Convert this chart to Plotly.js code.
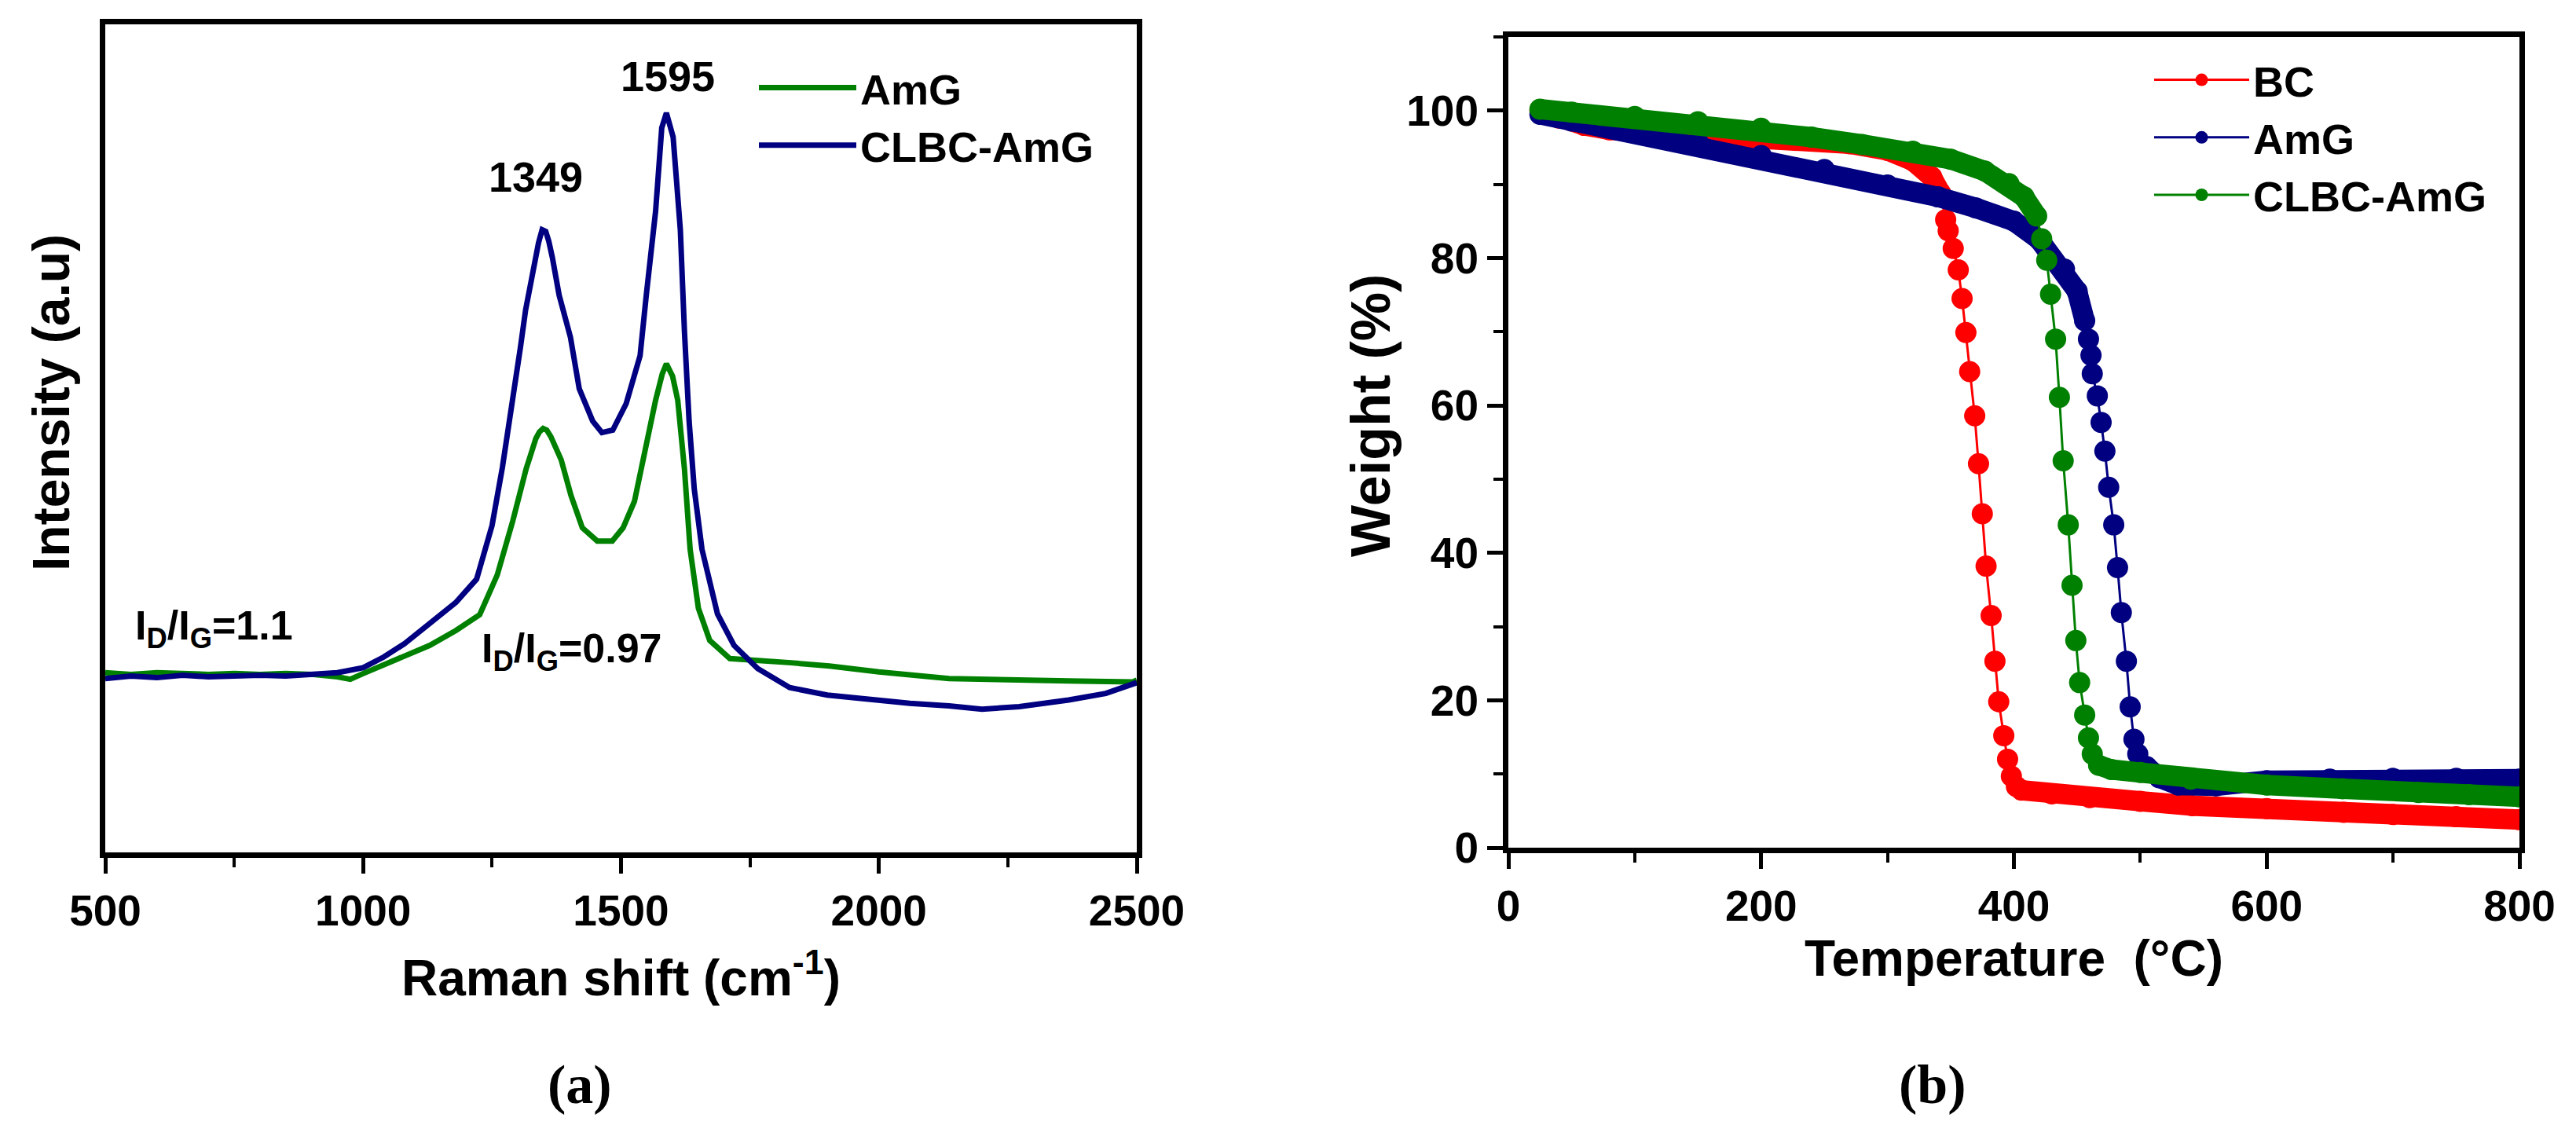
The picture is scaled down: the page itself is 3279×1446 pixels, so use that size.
<!DOCTYPE html>
<html>
<head>
<meta charset="utf-8">
<script src="https://cdn.plot.ly/plotly-3.0.1.min.js"></script>
<style>
  html, body { margin: 0; padding: 0; background: #fff; }
  #chart { width: 3279px; height: 1446px; }
</style>
</head>
<body>
<div id="chart"></div>
<script>
// ---------------- (a) Raman spectra ----------------
const ramanShiftAmG = [500, 550, 600, 650, 700, 750, 800, 850, 900, 950, 975, 1000, 1034, 1080, 1129, 1180, 1226, 1260, 1290, 1316, 1335, 1342, 1349, 1356, 1364, 1384, 1403, 1425, 1454, 1483, 1504, 1526, 1549, 1567, 1580, 1588, 1600, 1610, 1623, 1634, 1650, 1672, 1711, 1765, 1830, 1904, 2000, 2136, 2250, 2368, 2492, 2500];
const intensityAmG = [21.7, 21.5, 21.7, 21.6, 21.5, 21.6, 21.5, 21.6, 21.5, 21.2, 20.9, 21.6, 22.5, 23.6, 25.0, 26.8, 28.7, 33.5, 40.0, 46.3, 50.0, 50.8, 51.2, 51.0, 50.2, 47.4, 43.1, 39.2, 37.6, 37.6, 39.2, 42.4, 49.5, 54.6, 57.8, 59.0, 57.5, 54.6, 46.3, 36.6, 29.5, 25.6, 23.4, 23.2, 22.9, 22.5, 21.8, 21.0, 20.8, 20.7, 20.6, 20.8];

const ramanShiftCLBC = [500, 550, 600, 650, 700, 750, 800, 850, 900, 950, 1000, 1040, 1080, 1130, 1180, 1220, 1250, 1270, 1289, 1305, 1315, 1332, 1340, 1347, 1354, 1360, 1367, 1380, 1402, 1419, 1445, 1463, 1484, 1510, 1537, 1549, 1567, 1579, 1588, 1601, 1615, 1623, 1632, 1642, 1657, 1687, 1719, 1765, 1827, 1900, 1981, 2060, 2136, 2200, 2272, 2368, 2440, 2477, 2500];
const intensityCLBC = [21.0, 21.3, 21.1, 21.4, 21.2, 21.3, 21.4, 21.3, 21.5, 21.7, 22.3, 23.6, 25.2, 27.8, 30.2, 33.0, 39.5, 46.5, 53.9, 61.0, 65.5, 71.2, 73.6, 75.2, 75.0, 73.8, 71.8, 67.3, 62.2, 56.0, 52.1, 50.7, 51.0, 54.2, 60.0, 67.3, 77.4, 87.5, 89.3, 86.4, 75.2, 62.9, 52.1, 43.9, 36.6, 28.8, 25.0, 22.2, 19.9, 19.0, 18.5, 18.0, 17.7, 17.3, 17.6, 18.4, 19.2, 19.9, 20.5];

const ramanPeakLabels = ['1349', '1595'];
const ramanPeakX = [1335, 1591];
const ramanPeakY = [81.6, 93.7];
const ratioLabels = ['I<sub>D</sub>/I<sub>G</sub>=1.1', 'I<sub>D</sub>/I<sub>G</sub>=0.97'];
const ratioX = [555, 1226];
const ratioY = [27.0, 24.3];

// ---------------- (b) TGA curves ----------------
// BC
const bcHeadT = [25, 40, 60, 80, 100, 130, 160, 200, 240, 270, 300, 320, 335, 342];
const bcHeadW = [100, 99.0, 98.0, 97.4, 97.2, 97.0, 96.8, 96.5, 96.0, 95.5, 94.6, 93.2, 91.0, 88.8];
const bcDropT = [346, 348, 352, 356, 359, 362, 365, 369, 372, 375, 378, 382, 385, 388, 392, 395, 398, 402];
const bcDropW = [85.2, 83.7, 81.3, 78.4, 74.5, 69.9, 64.6, 58.6, 52.1, 45.3, 38.2, 31.5, 25.3, 19.8, 15.2, 12.0, 9.7, 8.3];
const bcTailT = [406, 430, 460, 500, 541, 600, 661, 700, 750, 800];
const bcTailW = [7.8, 7.3, 6.8, 6.3, 5.7, 5.3, 4.8, 4.5, 4.2, 3.8];
// AmG
const amgHeadT = [25, 50, 100, 150, 200, 250, 300, 340, 370, 400, 420, 440, 450, 456];
const amgHeadW = [99.5, 98.6, 97.4, 95.7, 93.9, 92.0, 89.9, 88.3, 86.8, 85.0, 82.5, 78.5, 75.5, 71.5];
const amgDropT = [459, 461, 462, 466, 469, 472, 475, 479, 482, 485, 489, 492, 495, 498];
const amgDropW = [69.0, 66.8, 64.3, 61.3, 57.7, 53.8, 48.9, 43.8, 38.0, 31.9, 25.3, 19.1, 14.7, 12.7];
const amgTailT = [505, 515, 530, 560, 600, 650, 700, 750, 800];
const amgTailW = [11.0, 9.5, 8.5, 8.4, 9.1, 9.3, 9.4, 9.4, 9.3];
// CLBC-AmG
const clbcHeadT = [25, 50, 100, 150, 200, 240, 280, 320, 350, 377, 396, 408, 418];
const clbcHeadW = [100.2, 99.8, 99.2, 98.5, 97.6, 96.4, 95.4, 94.5, 93.4, 91.8, 90.1, 88.3, 85.7];
const clbcDropT = [422, 426, 429, 433, 436, 439, 443, 446, 449, 452, 456, 459, 462];
const clbcDropW = [82.6, 79.7, 75.1, 69.0, 61.1, 52.5, 43.8, 35.6, 28.1, 22.4, 18.0, 14.9, 12.7];
const clbcTailT = [467, 477, 500, 540, 600, 660, 720, 760, 800];
const clbcTailW = [11.2, 10.6, 10.2, 9.3, 8.5, 8.0, 7.5, 7.2, 6.9];

const seriesNames = ['BC', 'AmG', 'CLBC-AmG'];
const ramanNames = ['AmG', 'CLBC-AmG'];
const colRed = '#ff0000', colBlue = '#000080', colGreen = '#008000';

// ---------------- build figure ----------------
const W = 3279, H = 1446;
const FONT = 'Arial, "Liberation Sans", "Helvetica", sans-serif';
const BAND = 26, MSIZE = 27;

function tgaTraces(name, color, headT, headW, dropT, dropW, tailT, tailW) {
  const band = (xs, ys) => ({
    x: xs, y: ys, xaxis: 'x2', yaxis: 'y2', type: 'scatter', mode: 'lines',
    line: {color: color, width: BAND}, showlegend: false, hoverinfo: 'skip'
  });
  return [
    band(headT, headW),
    band(tailT, tailW),
    {
      x: headT.concat(dropT, tailT), y: headW.concat(dropW, tailW),
      xaxis: 'x2', yaxis: 'y2', type: 'scatter', mode: 'lines+markers', name: name,
      legend: 'legend2', legendgroup: 'tga-' + name,
      line: {color: color, width: 3}, marker: {color: color, size: MSIZE, symbol: 'circle'}
    }
  ];
}

const data = [
  {x: ramanShiftAmG, y: intensityAmG, type: 'scatter', mode: 'lines', name: ramanNames[0],
   line: {color: colGreen, width: 7}, xaxis: 'x', yaxis: 'y', legend: 'legend', legendgroup: 'r1'},
  {x: ramanShiftCLBC, y: intensityCLBC, type: 'scatter', mode: 'lines', name: ramanNames[1],
   line: {color: colBlue, width: 7}, xaxis: 'x', yaxis: 'y', legend: 'legend', legendgroup: 'r2'},
  ...tgaTraces(seriesNames[0], colRed, bcHeadT, bcHeadW, bcDropT, bcDropW, bcTailT, bcTailW),
  ...tgaTraces(seriesNames[1], colBlue, amgHeadT, amgHeadW, amgDropT, amgDropW, amgTailT, amgTailW),
  ...tgaTraces(seriesNames[2], colGreen, clbcHeadT, clbcHeadW, clbcDropT, clbcDropW, clbcTailT, clbcTailW)
];

const axisCommon = {
  showline: true, linecolor: '#000', linewidth: 7, mirror: true,
  showgrid: false, zeroline: false,
  ticks: 'outside', ticklen: 20, tickwidth: 5, tickcolor: '#000',
  tickfont: {family: FONT, size: 55, color: '#000', weight: 'bold'}
};

const annotations = [];
ramanPeakLabels.forEach((t, i) => annotations.push({
  xref: 'x', yref: 'y', x: ramanPeakX[i], y: ramanPeakY[i], text: t, showarrow: false,
  xanchor: 'center', yanchor: 'middle',
  font: {family: FONT, size: 54, color: '#000', weight: 'bold'}
}));
ratioLabels.forEach((t, i) => annotations.push({
  xref: 'x', yref: 'y', x: ratioX[i], y: ratioY[i], text: t, showarrow: false,
  xanchor: 'left', yanchor: 'middle',
  font: {family: FONT, size: 52, color: '#000', weight: 'bold'}
}));
// vertical axis titles
annotations.push({xref: 'paper', yref: 'paper', x: 65 / W, y: 1 - 513 / H, text: 'Intensity (a.u)',
  textangle: -90, showarrow: false, xanchor: 'center', yanchor: 'middle',
  font: {family: FONT, size: 66, color: '#000', weight: 'bold'}});
annotations.push({xref: 'paper', yref: 'paper', x: 1745 / W, y: 1 - 529 / H, text: 'Weight (%)',
  textangle: -90, showarrow: false, xanchor: 'center', yanchor: 'middle',
  font: {family: FONT, size: 70, color: '#000', weight: 'bold'}});
// panel labels
annotations.push({xref: 'paper', yref: 'paper', x: 738 / W, y: 1 - 1380 / H, text: '(<b>a</b>)',
  showarrow: false, xanchor: 'center', yanchor: 'middle',
  font: {family: '"Liberation Serif", "Times New Roman", serif', size: 70, color: '#000'}});
annotations.push({xref: 'paper', yref: 'paper', x: 2460 / W, y: 1 - 1380 / H, text: '(<b>b</b>)',
  showarrow: false, xanchor: 'center', yanchor: 'middle',
  font: {family: '"Liberation Serif", "Times New Roman", serif', size: 70, color: '#000'}});

const layout = {
  width: W, height: H,
  margin: {l: 0, r: 0, t: 0, b: 0, pad: 0},
  paper_bgcolor: '#ffffff', plot_bgcolor: '#ffffff',
  font: {family: FONT, size: 53, color: '#000', weight: 'bold'},
  showlegend: true,
  xaxis: Object.assign({}, axisCommon, {
    domain: [134 / W, 1447 / W], range: [500, 2500], anchor: 'y',
    tick0: 500, dtick: 500,
    minor: {ticks: 'outside', ticklen: 12, tickwidth: 4, tickcolor: '#000', dtick: 250, showgrid: false},
    title: {text: 'Raman shift (cm<sup>-1</sup>)', standoff: 36,
      font: {family: FONT, size: 64, color: '#000', weight: 'bold'}}
  }),
  yaxis: Object.assign({}, axisCommon, {
    domain: [1 - 1085 / H, 1 - 31 / H], range: [0, 100], anchor: 'x',
    ticks: '', showticklabels: false
  }),
  xaxis2: Object.assign({}, axisCommon, {
    domain: [1920 / W, 3207 / W], range: [0, 800], anchor: 'y2',
    tick0: 0, dtick: 200,
    minor: {ticks: 'outside', ticklen: 12, tickwidth: 4, tickcolor: '#000', dtick: 100, showgrid: false},
    title: {text: 'Temperature  (°C)', standoff: 8,
      font: {family: FONT, size: 64, color: '#000', weight: 'bold'}}
  }),
  yaxis2: Object.assign({}, axisCommon, {
    domain: [1 - 1079 / H, 1 - 47 / H], range: [0, 110], anchor: 'x2',
    tick0: 0, dtick: 20,
    minor: {ticks: 'outside', ticklen: 12, tickwidth: 4, tickcolor: '#000', dtick: 10, showgrid: false}
  }),
  legend: {
    x: 961 / W, y: 1 - 70 / H, xanchor: 'left', yanchor: 'top',
    bgcolor: 'rgba(0,0,0,0)', borderwidth: 0, itemwidth: 124, tracegroupgap: 0,
    font: {family: FONT, size: 54, color: '#000', weight: 'bold'}
  },
  legend2: {
    x: 2737 / W, y: 1 - 60 / H, xanchor: 'left', yanchor: 'top',
    bgcolor: 'rgba(0,0,0,0)', borderwidth: 0, itemwidth: 121, tracegroupgap: 0,
    font: {family: FONT, size: 54, color: '#000', weight: 'bold'}
  },
  annotations: annotations
};

Plotly.newPlot('chart', data, layout, {staticPlot: true, displayModeBar: false});
</script>
</body>
</html>
